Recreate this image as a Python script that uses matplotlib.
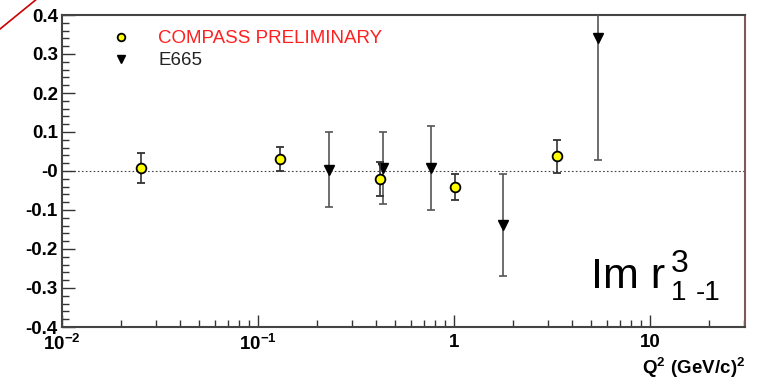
import matplotlib.pyplot as plt
from matplotlib.lines import Line2D
from matplotlib.ticker import FixedLocator, MultipleLocator, LogLocator, NullFormatter

# COMPASS preliminary
q2_compass = [0.0253, 0.129, 0.42, 1.01, 3.36]
r_compass = [0.008, 0.031, -0.021, -0.041, 0.038]
err_compass = [0.038, 0.031, 0.044, 0.033, 0.042]

# E665
q2_e665 = [0.230, 0.435, 0.763, 1.78, 5.43]
r_e665 = [0.003, 0.008, 0.008, -0.138, 0.341]
err_e665 = [0.096, 0.092, 0.108, 0.13, 0.313]

yticks = [0.4, 0.3, 0.2, 0.1, 0.0, -0.1, -0.2, -0.3, -0.4]
ytick_labels = ["0.4", "0.3", "0.2", "0.1", "-0", "-0.1", "-0.2", "-0.3", "-0.4"]
xticks = [0.01, 0.1, 1, 10]
xtick_labels = [r"$\mathbf{10^{-2}}$", r"$\mathbf{10^{-1}}$", "1", "10"]

plt.rcParams["font.family"] = ["Liberation Sans", "DejaVu Sans"]
plt.rcParams["mathtext.fontset"] = "custom"
plt.rcParams["mathtext.rm"] = "Liberation Sans"
plt.rcParams["mathtext.bf"] = "Liberation Sans:bold"

W, H = 757, 387
fig = plt.figure(figsize=(W / 100, H / 100), dpi=100)
ax = fig.add_axes([62 / W, 1 - 327 / H, 683 / W, 312 / H])

ax.axhline(0, color="#444444", lw=0.8, ls=(0, (1.5, 2)), zorder=1)

ax.errorbar(q2_e665, r_e665, yerr=err_e665, fmt="v", color="black", ms=7,
            ecolor="#555555", elinewidth=1.2, capsize=3, capthick=1.2, zorder=3)
ax.errorbar(q2_compass, r_compass, yerr=err_compass, fmt="o", mfc="#ffff00",
            mec="black", mew=1.3, ms=7, ecolor="#333333", elinewidth=1.2,
            capsize=3, capthick=1.2, zorder=4)

ax.set_xscale("log")
ax.set_xlim(0.01, 30.5)
ax.set_ylim(-0.4, 0.4)

ax.yaxis.set_major_locator(FixedLocator(yticks))
ax.set_yticklabels(ytick_labels)
ax.yaxis.set_minor_locator(MultipleLocator(0.02))
ax.xaxis.set_major_locator(FixedLocator(xticks))
ax.set_xticklabels(xtick_labels)
ax.xaxis.set_minor_locator(LogLocator(base=10, subs=range(2, 10)))
ax.xaxis.set_minor_formatter(NullFormatter())

ax.tick_params(which="both", direction="in", top=False, right=False,
               color="#333333", labelsize=13.5)
ax.tick_params(axis="y", which="major", length=9, width=1, pad=3)
ax.tick_params(axis="y", which="minor", length=5, width=1)
ax.tick_params(axis="x", which="major", length=9, width=1, pad=5)
ax.tick_params(axis="x", which="minor", length=5, width=1)
for lab in ax.get_xticklabels() + ax.get_yticklabels():
    lab.set_fontweight("bold")

for side in ["left", "bottom", "top"]:
    ax.spines[side].set_color("#444444")
    ax.spines[side].set_linewidth(1.5)
ax.spines["right"].set_color("#7a5a5a")
ax.spines["right"].set_linewidth(1.5)

h_compass = Line2D([], [], ls="none", marker="o", mfc="#ffff00", mec="black",
                   mew=1.3, ms=5.5)
h_e665 = Line2D([], [], ls="none", marker="v", color="black", ms=5.5)
leg = ax.legend([h_compass, h_e665], ["COMPASS PRELIMINARY", "E665"],
                loc="upper left", bbox_to_anchor=(0.045, 1.005), frameon=False,
                fontsize=13.5, handlelength=1.2, handletextpad=1.4,
                labelspacing=0.25)
leg.get_texts()[0].set_color("#ff2020")
leg.get_texts()[1].set_color("#222222")


def fpix(x, y):
    return x / W, 1 - y / H


fig.text(*fpix(591, 288), "Im r", fontsize=31, ha="left", va="baseline")
fig.text(*fpix(671, 272), "3", fontsize=23, ha="left", va="baseline")
fig.text(*fpix(671, 300), "1", fontsize=20, ha="left", va="baseline")
fig.text(*fpix(696, 300), "-1", fontsize=20, ha="left", va="baseline")

fig.text(*fpix(745, 374), r"$\mathbf{Q^{2}\ (GeV/c)^{2}}$", ha="right",
         va="baseline", fontsize=13.5)

fig.add_artist(Line2D([0.0, 0.047], [0.925, 1.0], transform=fig.transFigure,
                      color="#cc0000", lw=1.2))

fig.savefig("out.png", dpi=100)
